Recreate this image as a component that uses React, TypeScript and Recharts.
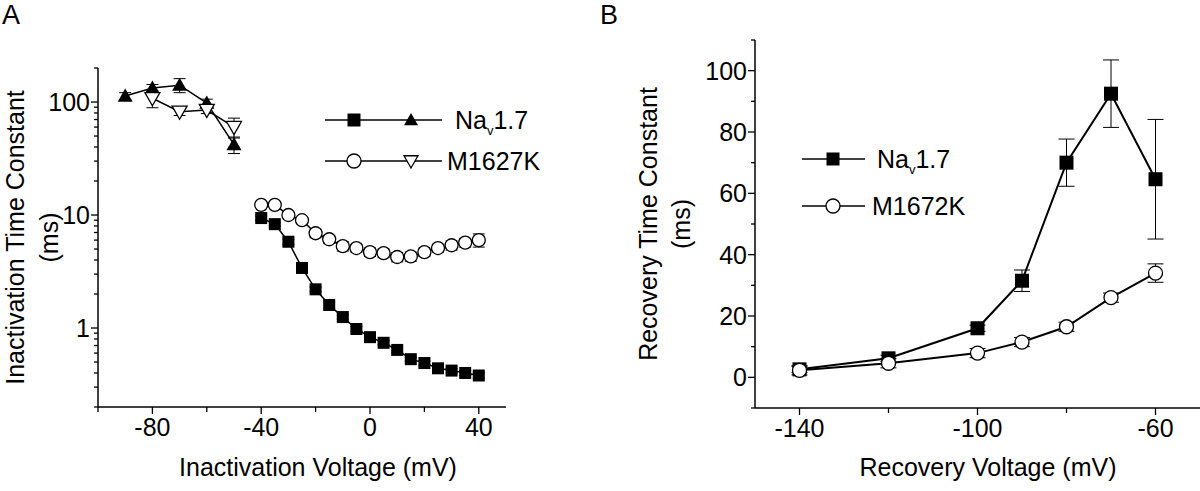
import React from "react";
import { LineChart, Line, XAxis, YAxis, ErrorBar, Legend, Label } from "recharts";

const FONT = '"Liberation Sans", Arial, Helvetica, sans-serif';

// ---- Panel A: inactivation time constants ----
const navTriVolt = [-90, -80, -70, -60, -50];
const navTriTau = [113, 133, 141, 98, 42];
const navTriErr = [8, 10, 20, 8, 7];

const mutTriVolt = [-80, -70, -60, -50];
const mutTriTau = [108, 82, 85, 60];
const mutTriErr = [19, 6, 6, 12];

const lowVolt = [-40, -35, -30, -25, -20, -15, -10, -5, 0, 5, 10, 15, 20, 25, 30, 35, 40];
const navSqTau = [9.4, 8.3, 5.8, 3.4, 2.2, 1.6, 1.25, 0.98, 0.83, 0.74, 0.64, 0.53, 0.49, 0.44, 0.42, 0.4, 0.38];
const navSqErr = [0.4, 0.3, 0.3, 0.2, 0.1, 0.1, 0.05, 0.05, 0.04, 0.03, 0.03, 0.02, 0.02, 0.02, 0.02, 0.02, 0.02];
const mutCircTau = [12.3, 12.3, 10, 9.0, 6.9, 6.1, 5.3, 5.1, 4.7, 4.6, 4.25, 4.3, 4.7, 5.1, 5.4, 5.7, 6.0];
const mutCircErr = [0.6, 0.6, 0.5, 0.5, 0.6, 0.5, 0.5, 0.4, 0.4, 0.4, 0.4, 0.4, 0.4, 0.4, 0.5, 0.5, 0.8];

const xTicksA = [-100, -80, -60, -40, -20, 0, 20, 40];
const yTicksA = [
  0.2, 0.3, 0.4, 0.5, 0.6, 0.7, 0.8, 0.9, 1, 2, 3, 4, 5, 6, 7, 8, 9, 10,
  20, 30, 40, 50, 60, 70, 80, 90, 100, 200,
];
const yLabelsA = [1, 10, 100];

// ---- Panel B: recovery time constants ----
const recVolt = [-140, -120, -100, -90, -80, -70, -60];
const navRecTau = [2.6, 6.2, 16, 31.5, 70, 92.5, 64.6];
const navRecErr = [1, 1, 1, 3.5, 7.7, 11, 19.5];
const mutRecTau = [2.3, 4.6, 7.9, 11.5, 16.5, 26, 34];
const mutRecErr = [1.5, 1.5, 1.5, 1.5, 1.5, 1.5, 3];

const xTicksB = [-140, -120, -100, -80, -60];
const xLabelsB = [-140, -100, -60];
const yTicksB = [-10, 0, 10, 20, 30, 40, 50, 60, 70, 80, 90, 100, 110];

const zip = (xs: number[], ys: number[], es: number[]) =>
  xs.map((x, i) => ({ x, y: ys[i], err: es[i] }));

function drawMarker(kind: string, cx: number, cy: number, size: number, key?: string) {
  const h = size / 2;
  if (kind === "square")
    return <rect key={key} x={cx - h} y={cy - h} width={size} height={size} fill="#000" />;
  if (kind === "circle")
    return <circle key={key} cx={cx} cy={cy} r={h} fill="#fff" stroke="#000" strokeWidth={1.3} />;
  if (kind === "triUp")
    return (
      <polygon
        key={key}
        points={`${cx},${cy - h} ${cx + h},${cy + h * 0.75} ${cx - h},${cy + h * 0.75}`}
        fill="#000"
      />
    );
  return (
    <polygon
      key={key}
      points={`${cx},${cy + h} ${cx + h},${cy - h * 0.75} ${cx - h},${cy - h * 0.75}`}
      fill="#fff"
      stroke="#000"
      strokeWidth={1.3}
    />
  );
}

const dotOf = (kind: string, size: number) => (p: any) => {
  const k = `${kind}-${p.index}`;
  if (p.cx == null || p.cy == null) return <g key={k} />;
  return drawMarker(kind, p.cx, p.cy, size, k);
};

const axisStyle = { stroke: "#000", strokeWidth: 1.5 };

const makeXTick = (labels: (v: number) => boolean) => (p: any) => {
  const { x, y, payload } = p;
  const major = labels(payload.value);
  return (
    <g>
      <line x1={x} x2={x} y1={y} y2={y + (major ? 7 : 5)} stroke="#000" strokeWidth={1.3} />
      {major && (
        <text x={x} y={y + 29} textAnchor="middle" fontSize={25} fontFamily={FONT} fill="#000">
          {payload.value}
        </text>
      )}
    </g>
  );
};

const makeYTick = (labels: (v: number) => boolean) => (p: any) => {
  const { x, y, payload } = p;
  const major = labels(payload.value);
  return (
    <g>
      <line x1={x} x2={x - (major ? 7 : 4)} y1={y} y2={y} stroke="#000" strokeWidth={1.3} />
      {major && (
        <text x={x - 8} y={y} dy="0.36em" textAnchor="end" fontSize={25} fontFamily={FONT} fill="#000">
          {payload.value}
        </text>
      )}
    </g>
  );
};

const yLabel = (line1: string, x1: number, x2: number) => (p: any) => {
  const vb = p.viewBox || {};
  const cy = (vb.y || 0) + (vb.height || 0) / 2;
  return (
    <g fontFamily={FONT} fontSize={25} fill="#000">
      <text x={x1} y={cy} textAnchor="middle" transform={`rotate(-90 ${x1} ${cy})`}>
        {line1}
      </text>
      <text x={x2} y={cy} textAnchor="middle" transform={`rotate(-90 ${x2} ${cy})`}>
        (ms)
      </text>
    </g>
  );
};

const xLabel = (text: string, cx: number, y: number) => () => (
  <text x={cx} y={y} textAnchor="middle" fontFamily={FONT} fontSize={25} fill="#000">
    {text}
  </text>
);

type LegendRow = { name: string; sub?: boolean; rest?: string; markers: string[]; y: number; textX: number };

const legendContent = (rows: LegendRow[], lineEnd: number, markerX: number[], w: number, h: number) => () => (
  <svg width={w} height={h} style={{ overflow: "visible" }}>
    {rows.map((r) => (
      <g key={r.name}>
        <line x1={0} x2={lineEnd} y1={r.y} y2={r.y} stroke="#000" strokeWidth={1.5} />
        {r.markers.map((m, i) => drawMarker(m, markerX[i], r.y, m === "square" ? 13 : 14, `${r.name}-${i}`))}
        <text x={r.textX} y={r.y + 9} fontFamily={FONT} fontSize={25} fill="#000">
          {r.name}
          {r.sub && (
            <tspan fontSize={13} dy={6}>
              v
            </tspan>
          )}
          {r.rest && <tspan dy={r.sub ? -6 : 0}>{r.rest}</tspan>}
        </text>
      </g>
    ))}
  </svg>
);

function PanelA() {
  return (
    <LineChart width={520} height={491} margin={{ top: 68, right: 14, bottom: 0, left: 0 }}>
      <XAxis
        type="number"
        dataKey="x"
        domain={[-100, 50]}
        ticks={xTicksA}
        interval={0}
        allowDataOverflow
        height={84}
        axisLine={axisStyle}
        tickLine={false}
        tickSize={0}
        tickMargin={0}
        tick={makeXTick((v) => v % 40 === 0)}
      >
        <Label content={xLabel("Inactivation Voltage (mV)", 318, 476)} />
      </XAxis>
      <YAxis
        type="number"
        scale="log"
        domain={[0.2, 200]}
        ticks={yTicksA}
        interval={0}
        allowDataOverflow
        width={98}
        axisLine={axisStyle}
        tickLine={false}
        tickSize={0}
        tickMargin={0}
        tick={makeYTick((v) => yLabelsA.includes(v))}
      >
        <Label content={yLabel("Inactivation Time Constant", 24, 58)} />
      </YAxis>
      <Legend
        layout="vertical"
        align="center"
        verticalAlign="middle"
        width={200}
        wrapperStyle={{ left: 325, top: 100, width: 200, height: 80 }}
        content={legendContent(
          [
            { name: "Na", sub: true, rest: "1.7", markers: ["square", "triUp"], y: 20, textX: 130 },
            { name: "M1627K", markers: ["circle", "triDown"], y: 61, textX: 122 },
          ],
          117,
          [29, 86],
          200,
          80
        )}
      />
      <Line
        data={zip(navTriVolt, navTriTau, navTriErr)}
        dataKey="y"
        stroke="#000"
        strokeWidth={1.5}
        dot={dotOf("triUp", 15)}
        activeDot={false}
        isAnimationActive={false}
      >
        <ErrorBar dataKey="err" width={6} stroke="#000" strokeWidth={1} direction="y" />
      </Line>
      <Line
        data={zip(mutTriVolt, mutTriTau, mutTriErr)}
        dataKey="y"
        stroke="#000"
        strokeWidth={1.5}
        dot={dotOf("triDown", 15)}
        activeDot={false}
        isAnimationActive={false}
      >
        <ErrorBar dataKey="err" width={6} stroke="#000" strokeWidth={1} direction="y" />
      </Line>
      <Line
        data={zip(lowVolt, navSqTau, navSqErr)}
        dataKey="y"
        stroke="#000"
        strokeWidth={1.5}
        dot={dotOf("square", 12)}
        activeDot={false}
        isAnimationActive={false}
      >
        <ErrorBar dataKey="err" width={6} stroke="#000" strokeWidth={1} direction="y" />
      </Line>
      <Line
        data={zip(lowVolt, mutCircTau, mutCircErr)}
        dataKey="y"
        stroke="#000"
        strokeWidth={1.5}
        dot={dotOf("circle", 13)}
        activeDot={false}
        isAnimationActive={false}
      >
        <ErrorBar dataKey="err" width={6} stroke="#000" strokeWidth={1} direction="y" />
      </Line>
    </LineChart>
  );
}

function PanelB() {
  return (
    <LineChart width={600} height={491} margin={{ top: 40, right: 0, bottom: 0, left: 0 }}>
      <XAxis
        type="number"
        dataKey="x"
        domain={[-150, -50]}
        ticks={xTicksB}
        interval={0}
        allowDataOverflow
        height={83}
        axisLine={axisStyle}
        tickLine={false}
        tickSize={0}
        tickMargin={0}
        tick={makeXTick((v) => xLabelsB.includes(v))}
      >
        <Label content={xLabel("Recovery Voltage (mV)", 388, 476)} />
      </XAxis>
      <YAxis
        type="number"
        domain={[-10, 110]}
        ticks={yTicksB}
        interval={0}
        allowDataOverflow
        width={155}
        axisLine={axisStyle}
        tickLine={false}
        tickSize={0}
        tickMargin={0}
        tick={makeYTick((v) => v >= 0 && v <= 100 && v % 20 === 0)}
      >
        <Label content={yLabel("Recovery Time Constant", 57, 90)} />
      </YAxis>
      <Legend
        layout="vertical"
        align="center"
        verticalAlign="middle"
        width={200}
        wrapperStyle={{ left: 202, top: 138, width: 200, height: 90 }}
        content={legendContent(
          [
            { name: "Na", sub: true, rest: "1.7", markers: ["square"], y: 21, textX: 75 },
            { name: "M1672K", markers: ["circle"], y: 68, textX: 70 },
          ],
          63,
          [31],
          200,
          90
        )}
      />
      <Line
        data={zip(recVolt, navRecTau, navRecErr)}
        dataKey="y"
        stroke="#000"
        strokeWidth={2}
        dot={dotOf("square", 14)}
        activeDot={false}
        isAnimationActive={false}
      >
        <ErrorBar dataKey="err" width={8} stroke="#000" strokeWidth={1} direction="y" />
      </Line>
      <Line
        data={zip(recVolt, mutRecTau, mutRecErr)}
        dataKey="y"
        stroke="#000"
        strokeWidth={2}
        dot={dotOf("circle", 14)}
        activeDot={false}
        isAnimationActive={false}
      >
        <ErrorBar dataKey="err" width={8} stroke="#000" strokeWidth={1} direction="y" />
      </Line>
    </LineChart>
  );
}

export default function App() {
  const panelTitle: React.CSSProperties = {
    position: "absolute",
    fontFamily: FONT,
    fontSize: 27,
    lineHeight: "30px",
    color: "#000",
  };
  return (
    <div style={{ position: "absolute", left: 0, top: 0, width: 1200, height: 491, background: "#fff", overflow: "hidden" }}>
      <div style={{ position: "absolute", left: 0, top: 0 }}>
        <PanelA />
      </div>
      <div style={{ position: "absolute", left: 600, top: 0 }}>
        <PanelB />
      </div>
      <div style={{ ...panelTitle, left: 2, top: 0 }}>A</div>
      <div style={{ ...panelTitle, left: 600, top: 0 }}>B</div>
    </div>
  );
}
